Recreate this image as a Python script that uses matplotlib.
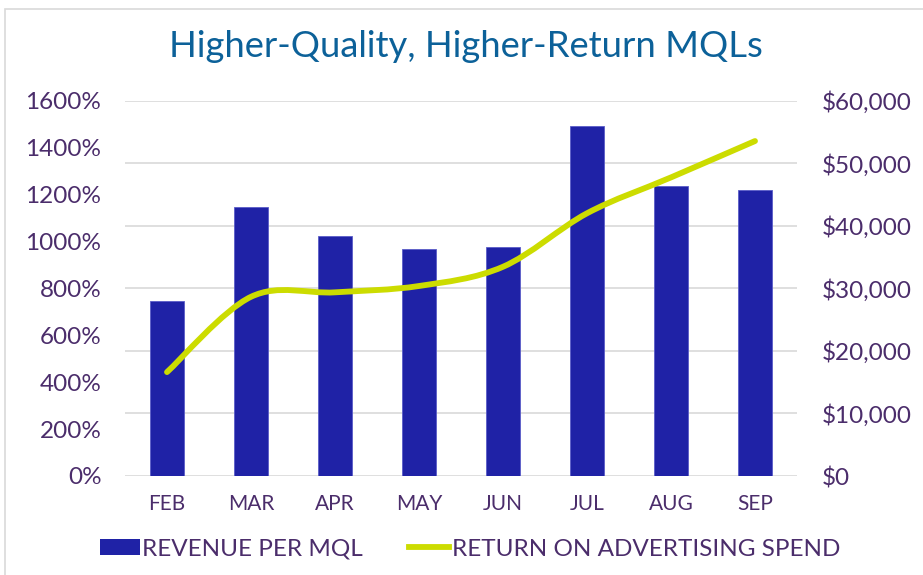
import matplotlib
matplotlib.use("Agg")
import matplotlib.pyplot as plt
from matplotlib.path import Path
from matplotlib.patches import PathPatch, Rectangle
from matplotlib.lines import Line2D
from matplotlib.ticker import FuncFormatter
import numpy as np

categories = ['FEB', 'MAR', 'APR', 'MAY', 'JUN', 'JUL', 'AUG', 'SEP']
revenue_per_mql = [28000, 43000, 38400, 36300, 36600, 55900, 46400, 45800]
roas_pct = [443, 764, 783, 810, 892, 1120, 1273, 1428]
left_ticks = [0, 200, 400, 600, 800, 1000, 1200, 1400, 1600]
right_ticks = [0, 10000, 20000, 30000, 40000, 50000, 60000]

BAR_COLOR = '#1F22A6'
LINE_COLOR = '#CCDC00'
TEXT_COLOR = '#4B2D6B'
TITLE_COLOR = '#0C6199'
GRID_COLOR = '#D9D9D9'
FONT = 'Lato'

W, H = 923, 575
fig = plt.figure(figsize=(W / 100, H / 100), dpi=100)
fig.patch.set_facecolor('white')

# chart border
fig.patches.append(Rectangle((5 / W, -0.01), 1.0, (575 - 9) / H + 0.01,
                             transform=fig.transFigure, fill=False,
                             edgecolor='#D9D9D9', linewidth=1.2))

left, right, top, bottom = 125, 797, 100.7, 476
ax2 = fig.add_axes([left / W, (H - bottom) / H, (right - left) / W, (bottom - top) / H])
ax = ax2.twinx()
# put left-axis (line) in front of bars
ax.set_zorder(ax2.get_zorder() + 1)
ax.patch.set_visible(False)

x = np.arange(len(categories))

# bars on right-axis scale
ax2.bar(x, revenue_per_mql, width=0.41, color=BAR_COLOR, edgecolor='#5A5CC8',
        linewidth=0.6, zorder=3)
ax2.set_ylim(0, 60000)
ax2.set_xlim(-0.5, len(categories) - 0.5)
ax2.set_yticks(right_ticks)
ax2.yaxis.set_major_formatter(FuncFormatter(lambda v, p: f"${v:,.0f}"))
ax2.grid(axis='y', color=GRID_COLOR, linewidth=1.2, zorder=0)
ax2.set_axisbelow(True)
ax2.yaxis.tick_right()
ax2.yaxis.set_label_position('right')

# smoothed line (Catmull-Rom style bezier) on left axis
pts = np.column_stack([x, roas_pct]).astype(float)
verts = [tuple(pts[0])]
codes = [Path.MOVETO]
n = len(pts)
for i in range(n - 1):
    p0 = pts[i - 1] if i > 0 else pts[i]
    p1 = pts[i]
    p2 = pts[i + 1]
    p3 = pts[i + 2] if i + 2 < n else pts[i + 1]
    c1 = p1 + (p2 - p0) / 6.0
    c2 = p2 - (p3 - p1) / 6.0
    verts += [tuple(c1), tuple(c2), tuple(p2)]
    codes += [Path.CURVE4] * 3
path = Path(verts, codes)
ax.add_patch(PathPatch(path, facecolor='none', edgecolor=LINE_COLOR,
                       linewidth=4.2, capstyle='round', joinstyle='round', zorder=4))
ax.set_ylim(0, 1600)
ax.set_yticks(left_ticks)
ax.yaxis.set_major_formatter(FuncFormatter(lambda v, p: f"{v:.0f}%"))
ax.yaxis.tick_left()

for a in (ax, ax2):
    for s in a.spines.values():
        s.set_visible(False)
    a.tick_params(axis='both', length=0)

ax2.set_xticks(x)
ax2.set_xticklabels(categories)
ax2.tick_params(axis='x', pad=13, labelsize=15, labelcolor=TEXT_COLOR)
ax2.tick_params(axis='y', pad=18, labelsize=17.5, labelcolor=TEXT_COLOR)
ax.tick_params(axis='y', pad=17, labelsize=17.5, labelcolor=TEXT_COLOR)
for lab in ax2.get_xticklabels() + ax2.get_yticklabels() + ax.get_yticklabels():
    lab.set_fontfamily(FONT)

fig.text(466 / W, 1 - 57 / H, 'Higher-Quality, Higher-Return MQLs', ha='center', va='baseline',
         fontsize=26.2, color=TITLE_COLOR, family=FONT)

handles = [Rectangle((0, 0), 1, 1, facecolor=BAR_COLOR, edgecolor='none'),
           Line2D([0], [0], color=LINE_COLOR, linewidth=4.2)]
leg = fig.legend(handles, ['REVENUE PER MQL', 'RETURN ON ADVERTISING SPEND'],
                 loc='center', bbox_to_anchor=(470 / W, 1 - 549 / H), ncol=2, frameon=False,
                 handlelength=1.65, handleheight=0.65, handletextpad=0.1, columnspacing=1.9,
                 prop={'family': FONT, 'size': 17.5})
for t in leg.get_texts():
    t.set_color(TEXT_COLOR)

fig.savefig('out.png', dpi=100, facecolor='white')
